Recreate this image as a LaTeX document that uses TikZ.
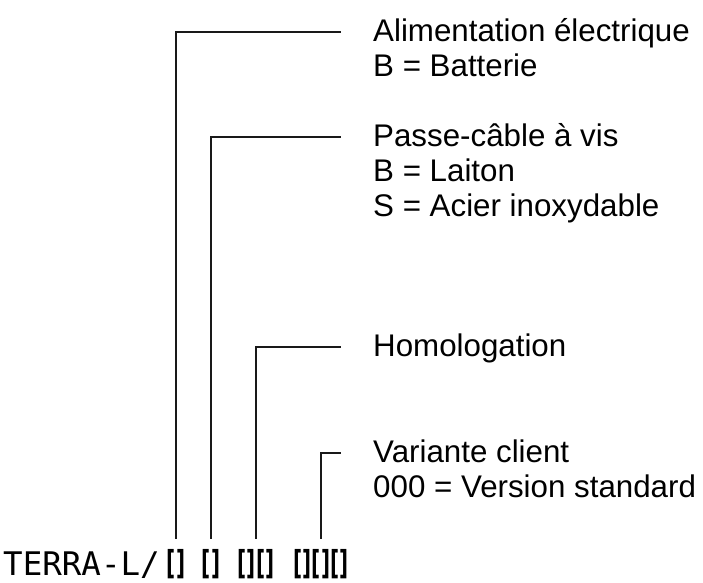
\documentclass[tikz,border=0pt]{standalone}
\usepackage{fontspec}
\setmainfont{Liberation Sans}
\newfontfamily\codefont{DejaVu Sans Mono}
\newfontfamily\brfont{DejaVu Sans}
\begin{document}
\begin{tikzpicture}[x=1pt,y=-1pt,
  lbl/.style={anchor=base west,inner sep=0,font=\fontsize{31.3}{35}\selectfont},
  br/.style={anchor=base,inner sep=0,outer xsep=0,outer ysep=10pt,font=\fontsize{33}{37}\brfont\bfseries},
  code/.style={anchor=base west,inner sep=0,font=\fontsize{32.5}{36}\codefont},
  leader/.style={line width=1.3pt,black!90}]
\useasboundingbox (0,0) rectangle (703,582);
% code string
\node[code] (t) at (3,575) {TERRA-L/};
\node[br] (b1) at (176,574) {\scalebox{0.6}[1]{[]}};
\node[br] (b2) at (211,574) {\scalebox{0.6}[1]{[]}};
\node[br] (b3) at (256,574) {\scalebox{0.6}[1]{[][]}};
\node[br] (b4) at (321,574) {\scalebox{0.6}[1]{[][][]}};
% line ends
\coordinate (e1) at (341,32);
\coordinate (e2) at (341,137);
\coordinate (e3) at (341,347);
\coordinate (e4) at (341,453);
% labels
\node[lbl] (l1a) at (373,41.5) {Alimentation électrique};
\node[lbl] (l1b) at (373,76.5) {B = Batterie};
\node[lbl] (l2a) at (373,146.5) {Passe-câble à vis};
\node[lbl] (l2b) at (373,181.5) {B = Laiton};
\node[lbl] (l2c) at (373,216.5) {S = Acier inoxydable};
\node[lbl] (l3a) at (373,356.5) {Homologation};
\node[lbl] (l4a) at (373,462.5) {Variante client};
\node[lbl] (l4b) at (373,497.5) {000 = Version standard};
% leaders
\draw[leader] (b1.north) |- (e1);
\draw[leader] (b2.north) |- (e2);
\draw[leader] (b3.north) |- (e3);
\draw[leader] (b4.north) |- (e4);
\end{tikzpicture}
\end{document}
